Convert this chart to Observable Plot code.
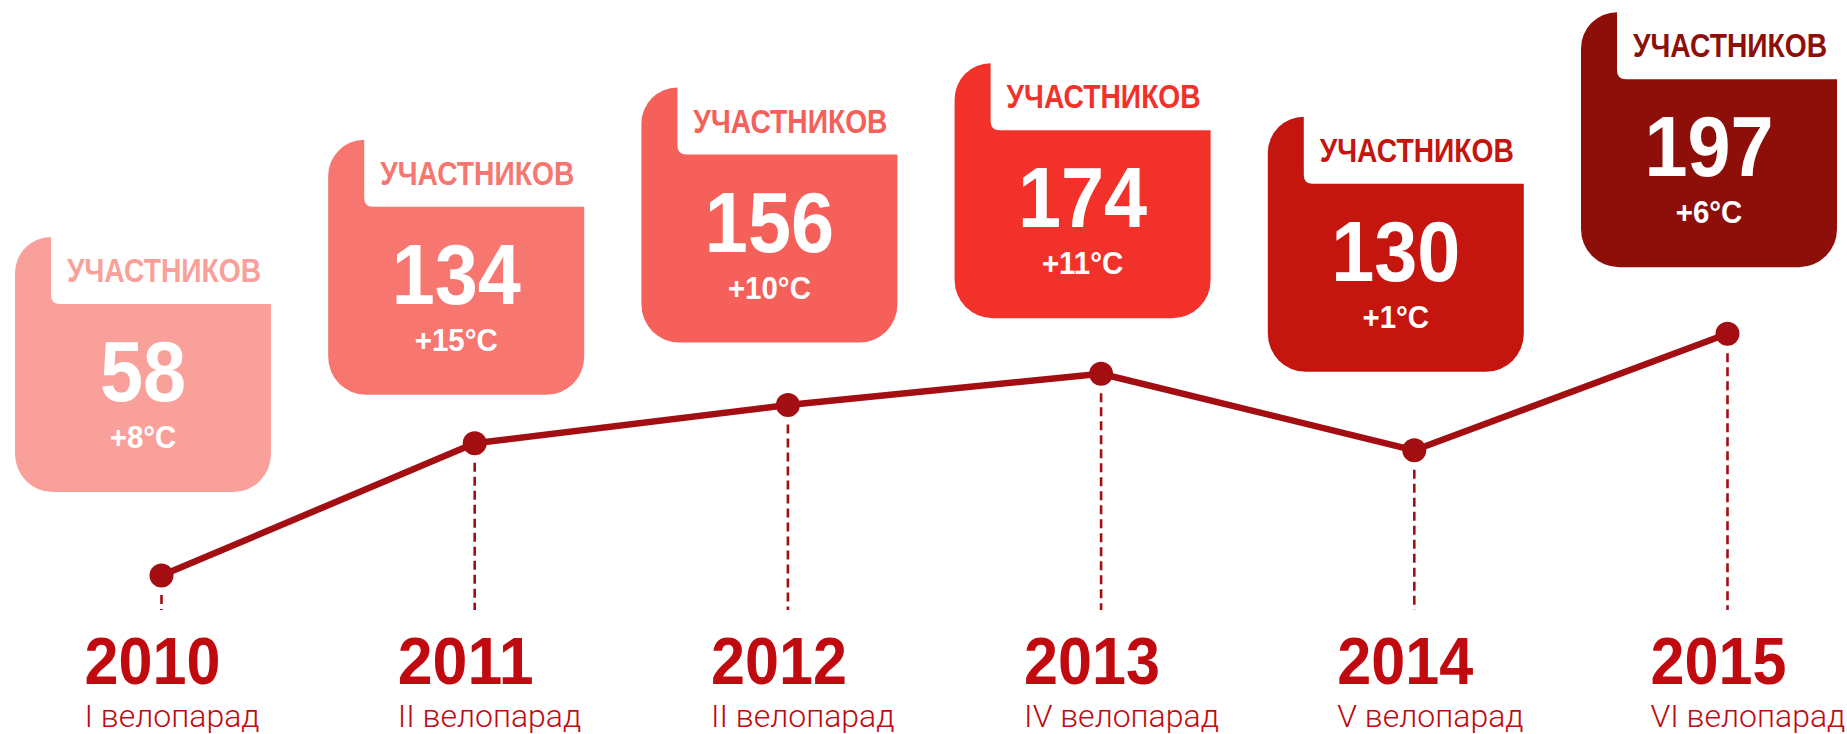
<!DOCTYPE html>
<html><head><meta charset="utf-8">
<script src="https://cdn.jsdelivr.net/npm/d3@7"></script>
<script src="https://cdn.jsdelivr.net/npm/@observablehq/plot@0.6"></script>
<style>html,body{margin:0;padding:0;background:#fff;} #chart svg{display:block;}</style>
</head><body><div id="chart"></div>
<script>
// ---- data ----
const years = [2010, 2011, 2012, 2013, 2014, 2015];
const participants = [58, 134, 156, 174, 130, 197];
const temperatures = ["+8°C", "+15°C", "+10°C", "+11°C", "+1°C", "+6°C"];
const paradeLabels = ["I велопарад", "II велопарад", "II велопарад", "IV велопарад", "V велопарад", "VI велопарад"];
const boxTitle = "УЧАСТНИКОВ";

// ---- layout / style (not data) ----
const boxColors = ["#f9a09a", "#f7766f", "#f6605a", "#f2322a", "#c5150f", "#8e0f0a"];
const boxLift = [83, 48, 62, 55, 78, 66];

const table = years.map((year, i) => ({
  year, value: participants[i], temp: temperatures[i], parade: paradeLabels[i],
  color: boxColors[i], lift: boxLift[i]
}));

const lineColor = "#a20e12";
const textRed = "#c10a0f";
const boldFont = "'Liberation Sans', Arial, sans-serif";

function addText(g, x, y, sx, size, fill, txt) {
  g.append("text")
    .attr("transform", `translate(${x},${y}) scale(${sx},1)`)
    .attr("text-anchor", "middle")
    .attr("font-family", boldFont).attr("font-weight", "bold").attr("font-size", size)
    .attr("fill", fill).text(txt);
}

function boxes(index, scales) {
  const g = d3.create("svg:g");
  for (const d of table) {
    const px = scales.x(d.year), py = scales.y(d.value);
    const L = px - 146, R = L + 256, B = py - d.lift, T = B - 255, M = T + 67, C = L + 36;
    const r1 = 36, rb = 38, ri = 9;
    const path = `M${C},${T} L${C},${M - ri} Q${C},${M} ${C + ri},${M} L${R},${M} L${R},${B - rb} ` +
      `A${rb},${rb} 0 0 1 ${R - rb},${B} L${L + rb},${B} A${rb},${rb} 0 0 1 ${L},${B - rb} ` +
      `L${L},${T + r1} A${r1},${r1} 0 0 1 ${L + r1},${T} Z`;
    g.append("path").attr("d", path).attr("fill", d.color);
    addText(g, L + 149, M - 22, 0.83, 34, d.color, boxTitle);
    addText(g, L + 128, B - 91, 0.9, 86, "#fff", d.value);
    addText(g, L + 128, B - 44, 0.95, 31, "#fff", d.temp);
  }
  return g.node();
}

const chart = Plot.plot({
  width: 1847,
  height: 734,
  margin: 0,
  style: {background: "#fff", overflow: "visible"},
  x: {domain: [2010, 2015], range: [161, 1727], axis: null},
  y: {domain: [0, 200], range: [676, 328], axis: null},
  marks: [
    boxes,
    Plot.ruleX(table, {x: "year", y1: "value", y2: 38, insetTop: 20, stroke: lineColor,
      strokeWidth: 2.6, strokeDasharray: "9,5"}),
    Plot.line(table, {x: "year", y: "value", stroke: lineColor, strokeWidth: 6.5}),
    Plot.dot(table, {x: "year", y: "value", r: 12, fill: lineColor}),
    Plot.text(table, {x: "year", text: d => String(d.year), frameAnchor: "top", lineAnchor: "bottom",
      dy: 683, dx: -77, textAnchor: "start", fontFamily: boldFont, fontWeight: "bold", fontSize: 67,
      fill: textRed}),
    Plot.text(table, {x: "year", text: "parade", frameAnchor: "top", lineAnchor: "bottom",
      dy: 726, dx: -77, textAnchor: "start", fontFamily: "Roboto", fontWeight: 300, fontSize: 32,
      fill: textRed})
  ]
});
// condense the year labels to the reference width
d3.select(chart).selectAll("text")
  .filter(function() { return /^\d{4}$/.test(this.textContent); })
  .attr("textLength", 136).attr("lengthAdjust", "spacingAndGlyphs");
document.getElementById("chart").appendChild(chart);
</script>
</body></html>
